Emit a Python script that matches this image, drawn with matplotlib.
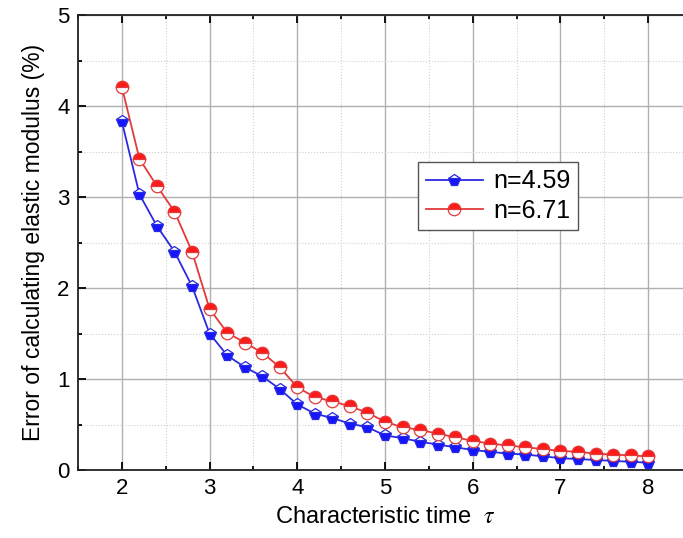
import numpy as np
import matplotlib
matplotlib.use("Agg")
import matplotlib.pyplot as plt
from matplotlib.ticker import MultipleLocator

plt.rcParams['font.family'] = ['Liberation Sans', 'DejaVu Sans']
plt.rcParams['mathtext.fontset'] = 'stix'

tau = [2.0, 2.2, 2.4, 2.6, 2.8, 3.0, 3.2, 3.4, 3.6, 3.8, 4.0, 4.2, 4.4, 4.6, 4.8,
       5.0, 5.2, 5.4, 5.6, 5.8, 6.0, 6.2, 6.4, 6.6, 6.8, 7.0, 7.2, 7.4, 7.6, 7.8, 8.0]
err_459 = [3.83, 3.03, 2.68, 2.40, 2.02, 1.50, 1.26, 1.13, 1.03, 0.89, 0.72, 0.62, 0.57,
           0.51, 0.47, 0.38, 0.35, 0.31, 0.28, 0.25, 0.22, 0.20, 0.18, 0.17, 0.15,
           0.13, 0.12, 0.11, 0.10, 0.09, 0.08]
err_671 = [4.21, 3.42, 3.12, 2.84, 2.40, 1.77, 1.51, 1.40, 1.29, 1.13, 0.91, 0.80, 0.755,
           0.70, 0.63, 0.53, 0.47, 0.44, 0.40, 0.36, 0.32, 0.29, 0.27, 0.25, 0.23,
           0.21, 0.20, 0.18, 0.17, 0.16, 0.15]
labels = ["n=4.59", "n=6.71"]

fig = plt.figure(figsize=(6.83, 5.38), dpi=100)
ax = fig.add_axes([78/683, 1-470/538, 614/683, 455/538])

blue = '#2a2ae0'
red = '#e23a3a'
ax.plot(tau, err_459, color=blue, lw=1.3, marker='p', markersize=8.5,
        markerfacecolor='#1515ff', markerfacecoloralt='white', fillstyle='bottom',
        markeredgecolor=blue, markeredgewidth=0.9, label=labels[0], zorder=3)
ax.plot(tau, err_671, color=red, lw=1.3, marker='o', markersize=9,
        markerfacecolor='#ff1a1a', markerfacecoloralt='white', fillstyle='top',
        markeredgecolor=red, markeredgewidth=0.9, label=labels[1], zorder=3)

ax.set_xlim(1.5, 8.5)
ax.set_ylim(0, 5)
ax.xaxis.set_major_locator(MultipleLocator(1))
ax.xaxis.set_minor_locator(MultipleLocator(0.5))
ax.yaxis.set_major_locator(MultipleLocator(1))
ax.yaxis.set_minor_locator(MultipleLocator(0.5))
ax.grid(which='major', color='#b0b0b0', lw=1.0, zorder=0)
ax.grid(which='minor', color='#d0d0d0', lw=0.8, ls=':', zorder=0)
ax.set_axisbelow(True)
ax.tick_params(which='both', direction='in', top=True, right=True, labelsize=16, width=1.3, pad=6)
ax.tick_params(which='major', length=6)
ax.tick_params(which='minor', length=3)
for s in ax.spines.values():
    s.set_linewidth(1.3)
    s.set_color('#222222')

ax.set_xlabel(r"Characteristic time  $\tau$", fontsize=17, labelpad=5)
ax.set_ylabel("Error of calculating elastic modulus (%)", fontsize=16.5, labelpad=9)

leg = ax.legend(loc='upper left', bbox_to_anchor=((418-78)/614, (470-162)/455),
                borderaxespad=0, fontsize=18, frameon=True, fancybox=False,
                edgecolor='#555555', framealpha=1, handlelength=2.3,
                borderpad=0.3, labelspacing=0.2, handletextpad=0.4)
leg.get_frame().set_linewidth(1.0)

fig.savefig("out.png", dpi=100)
